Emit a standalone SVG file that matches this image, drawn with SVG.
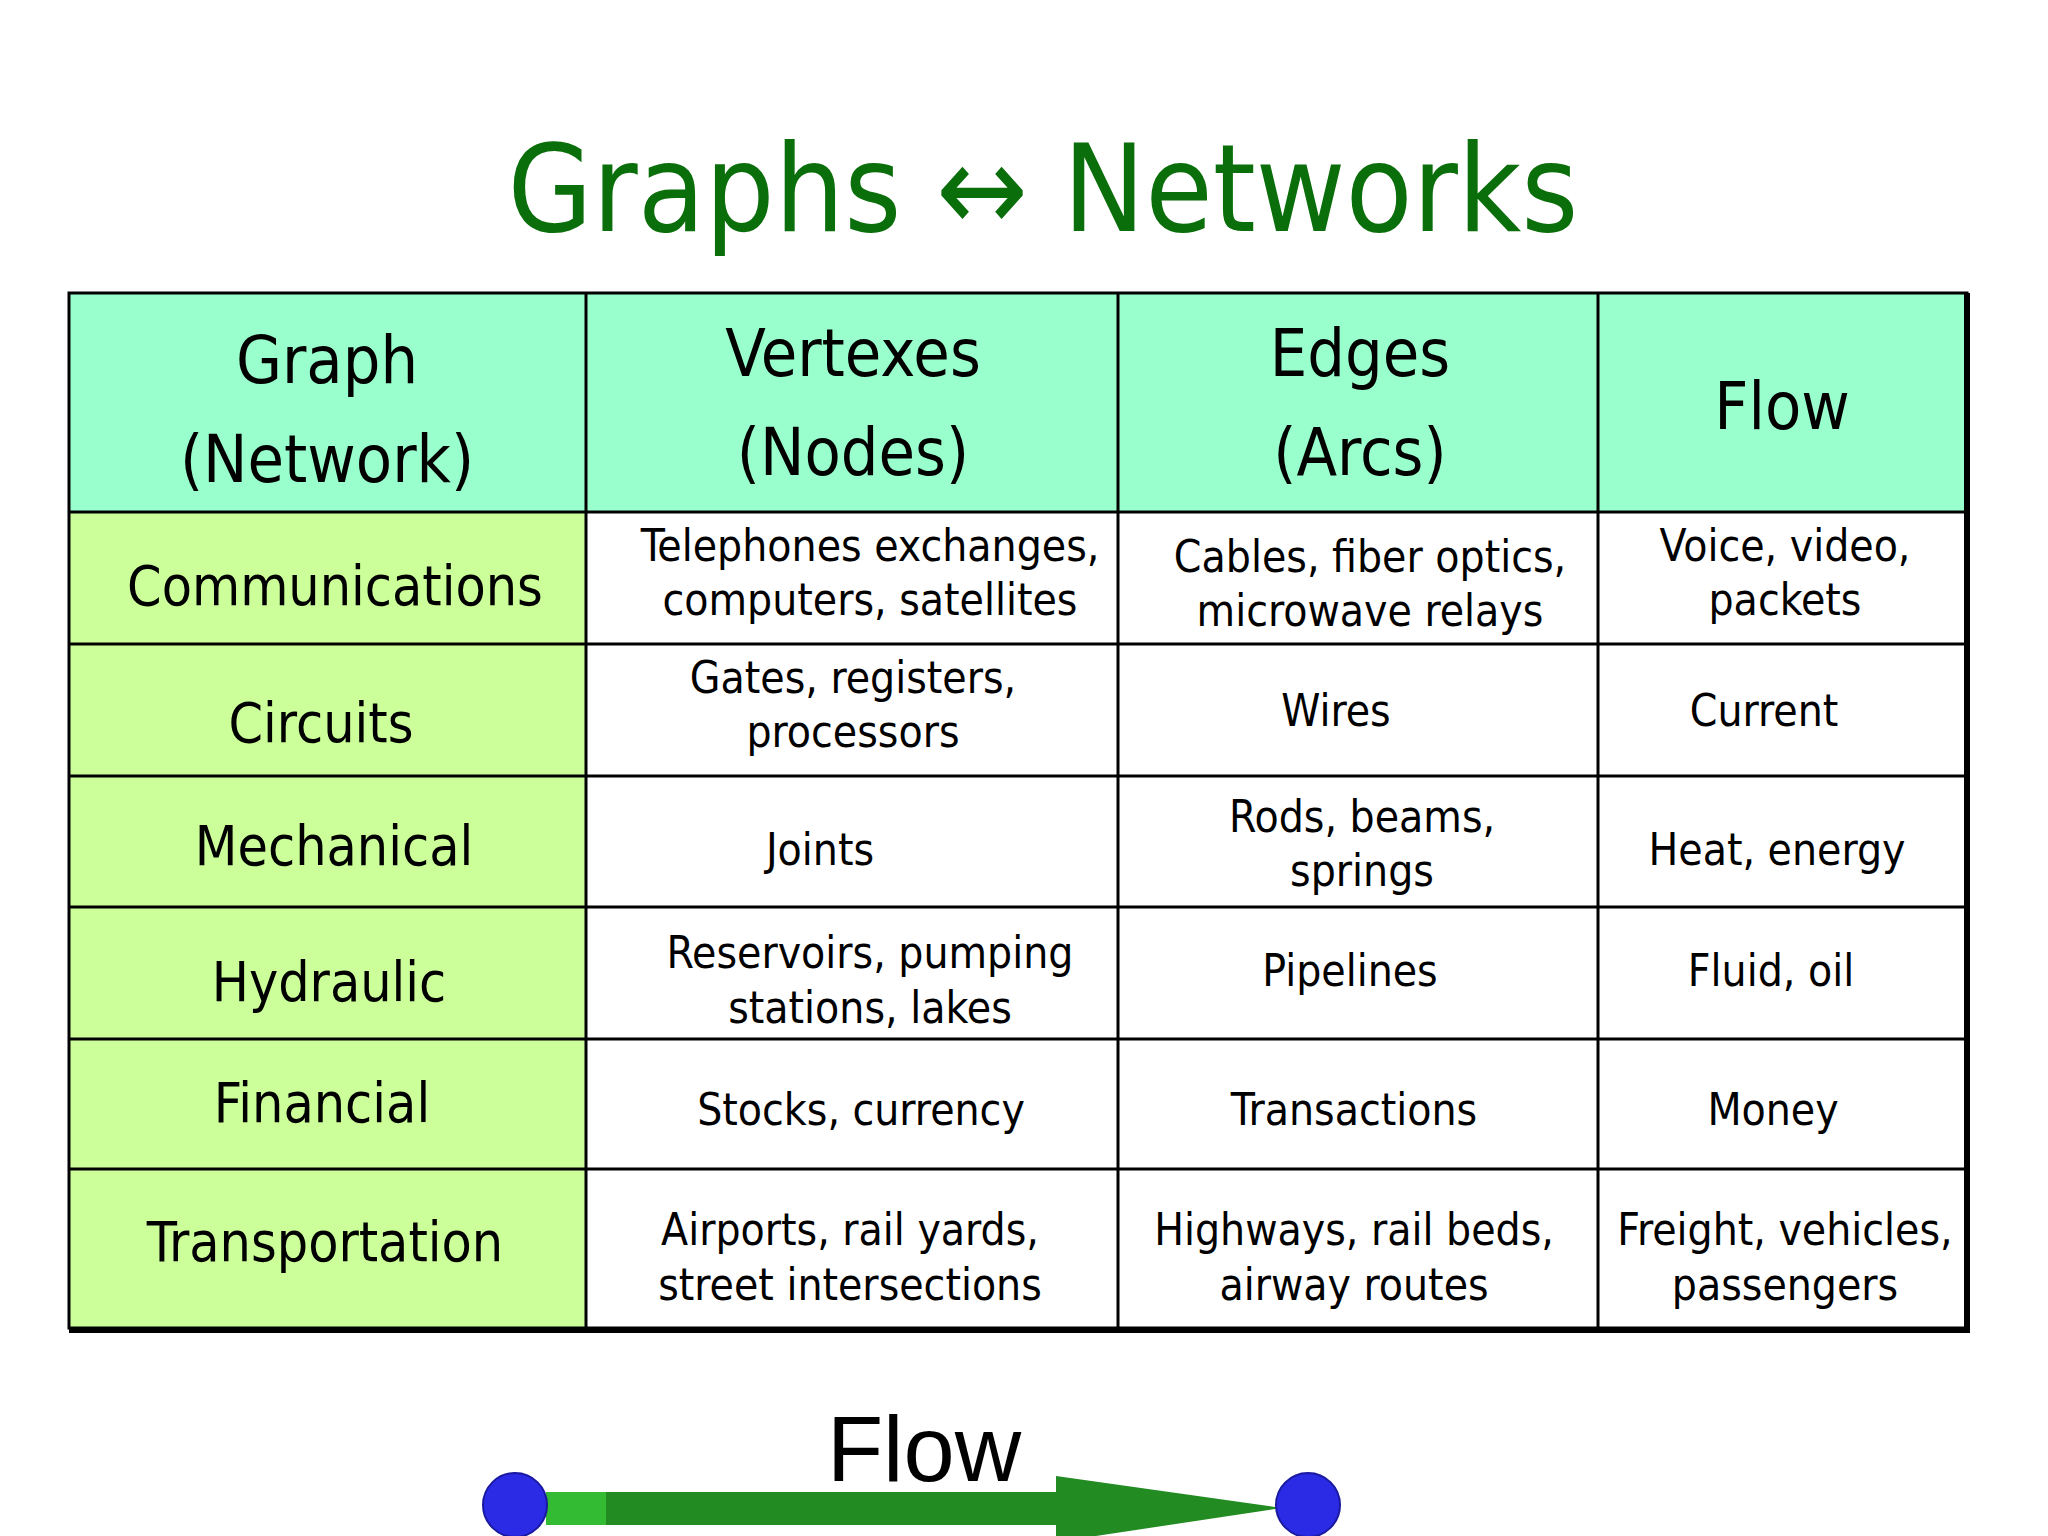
<svg xmlns="http://www.w3.org/2000/svg" width="2048" height="1536" viewBox="0 0 2048 1536">
<style>
text{font-family:"DejaVu Sans Condensed","DejaVu Sans",sans-serif;text-anchor:middle;fill:#000}
.h{font-size:66px}.r{font-size:55px}.c{font-size:44px}
.g{stroke:#000;stroke-width:3;fill:none}
</style>
<rect width="2048" height="1536" fill="#fff"/>
<text x="1043" y="231" style="font-size:122px;fill:#0a6e0a">Graphs ↔ Networks</text>
<g id="table">
<rect x="69" y="293" width="1898" height="219" fill="#99ffcc"/>
<rect x="69" y="512" width="517" height="816" fill="#ccff99"/>
<rect x="69" y="293" width="1898" height="1035" class="g"/>
<path class="g" d="M586 293V1328M1118 293V1328M1598 293V1328M69 512H1967M69 644H1967M69 776H1967M69 907H1967M69 1039H1967M69 1169H1967"/>
<path d="M1967 293V1330H69" stroke="#000" stroke-width="6" fill="none"/>
</g>
<g id="header">
<text class="h" x="327" y="383">Graph</text><text class="h" x="327" y="482">(Network)</text>
<text class="h" x="853" y="376">Vertexes</text><text class="h" x="853" y="475">(Nodes)</text>
<text class="h" x="1360" y="376">Edges</text><text class="h" x="1360" y="475">(Arcs)</text>
<text class="h" x="1782" y="429">Flow</text>
</g>
<g id="rows">
<text class="r" x="335" y="605">Communications</text>
<text class="r" x="321" y="742">Circuits</text>
<text class="r" x="334" y="865">Mechanical</text>
<text class="r" x="329" y="1001">Hydraulic</text>
<text class="r" x="322" y="1122">Financial</text>
<text class="r" x="325" y="1261">Transportation</text>
</g>
<g id="cells">
<text class="c" x="870" y="561">Telephones exchanges,</text><text class="c" x="870" y="615">computers, satellites</text>
<text class="c" x="1370" y="572">Cables, fiber optics,</text><text class="c" x="1370" y="626">microwave relays</text>
<text class="c" x="1785" y="561">Voice, video,</text><text class="c" x="1785" y="615">packets</text>
<text class="c" x="853" y="693">Gates, registers,</text><text class="c" x="853" y="747">processors</text>
<text class="c" x="1336" y="726">Wires</text>
<text class="c" x="1764" y="726">Current</text>
<text class="c" x="820" y="865">Joints</text>
<text class="c" x="1362" y="832">Rods, beams,</text><text class="c" x="1362" y="886">springs</text>
<text class="c" x="1777" y="865">Heat, energy</text>
<text class="c" x="870" y="968">Reservoirs, pumping</text><text class="c" x="870" y="1023">stations, lakes</text>
<text class="c" x="1350" y="986">Pipelines</text>
<text class="c" x="1771" y="986">Fluid, oil</text>
<text class="c" x="861" y="1125">Stocks, currency</text>
<text class="c" x="1354" y="1125">Transactions</text>
<text class="c" x="1773" y="1125">Money</text>
<text class="c" x="850" y="1245">Airports, rail yards,</text><text class="c" x="850" y="1300">street intersections</text>
<text class="c" x="1354" y="1245">Highways, rail beds,</text><text class="c" x="1354" y="1300">airway routes</text>
<text class="c" x="1785" y="1245">Freight, vehicles,</text><text class="c" x="1785" y="1300">passengers</text>
</g>
<g id="flow">
<path d="M546 1492H1056V1476L1282 1508L1056 1542V1525H546Z" fill="#228b22"/>
<rect x="546" y="1492" width="60" height="33" fill="#33bb33"/>
<circle cx="515" cy="1505" r="32" fill="#2b2be6" stroke="#1a1aa0" stroke-width="2"/>
<circle cx="1308" cy="1505" r="32" fill="#2b2be6" stroke="#1a1aa0" stroke-width="2"/>
<text x="924" y="1481" style="font-family:'Liberation Sans',Arial,sans-serif;font-size:92px">Flow</text>
</g>
</svg>
